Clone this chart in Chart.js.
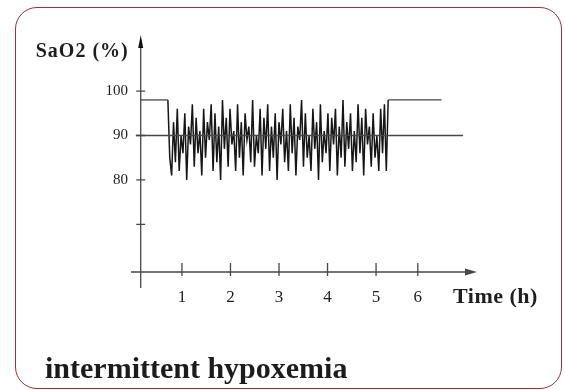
<!DOCTYPE html>
<html>
<head>
<meta charset="utf-8">
<script src="https://cdn.jsdelivr.net/npm/chart.js@4/dist/chart.umd.min.js"></script>
<style>
  html, body { margin: 0; padding: 0; background: #fff; }
  #wrap { position: relative; width: 565px; height: 390px; overflow: hidden; }
  #frame {
    position: absolute; left: 15px; top: 7px; width: 547px; height: 382px;
    box-sizing: border-box; border: 1.5px solid #9e3036; border-radius: 22px;
  }
  #chart { position: absolute; left: 0; top: 0; }
  #caption {
    position: absolute; left: 45px; top: 351px; line-height: 30px;
    font: bold 30px "Liberation Serif", serif; color: #1c1c1c; white-space: nowrap;
  }
</style>
</head>
<body>
<div id="wrap">
  <div id="frame"></div>
  <canvas id="chart" width="565" height="390"></canvas>
  <div id="caption">intermittent hypoxemia</div>
</div>
<script>
// axis titles and ticks
var yTitle = 'SaO2 (%)',
  xTitle = 'Time (h)',
  yTickValues = [70, 80, 90, 100],
  yTickLabels = ['', '80', '90', '100'],
  xTickValues = [1, 2, 3, 4, 5, 5.86],
  xTickLabels = ['1', '2', '3', '4', '5', '6'];

// where the y axis crosses the time axis (h)
var yAxisHour = 0.15;

// resting saturation before and after the episode
var restLevel = 98,
  leadInHours = [0.15, 0.71],
  tailOutHours = [5.25, 6.35];

// 90 % reference line
var referenceLevel = 90,
  referenceHours = [0.05, 6.79];

// oscillating SaO2 during the episode, sampled evenly from signalStart to signalEnd
var signalStart = 0.71,
  signalEnd = 5.25,
  signalValues = [
    98, 85, 81, 93, 84, 96, 82, 90, 86, 95,
    80, 92, 88, 97, 83, 94, 86, 91, 81, 96,
    85, 93, 89, 97, 82, 95, 84, 92, 80, 98,
    87, 94, 83, 96, 88, 91, 82, 97, 85, 93,
    81, 95, 89, 92, 84, 98, 83, 90, 86, 96,
    81, 94, 87, 97, 82, 92, 85, 95, 80, 93,
    88, 96, 84, 91, 82, 97, 86, 94, 81, 92,
    89, 98, 83, 95, 85, 90, 82, 96, 87, 93,
    80, 97, 84, 91, 86, 95, 82, 94, 88, 96,
    81, 92, 85, 98, 83, 93, 87, 95, 82, 91,
    84, 97, 86, 94, 81, 96, 88, 92, 83, 95,
    85, 90, 82, 96, 86, 97, 82, 98
  ];

var axisColor = '#474747',
  textColor = '#1e1e1e',
  serif = '"Liberation Serif", serif';

var signalPoints = signalValues.map(function(v, i) {
  return { x: signalStart + i * (signalEnd - signalStart) / (signalValues.length - 1), y: v };
});

var crossedAxes = {
  id: 'crossedAxes',
  afterDraw: function(chart) {
    var ctx = chart.ctx,
      area = chart.chartArea,
      x = chart.scales.x,
      y = chart.scales.y,
      x0 = x.getPixelForValue(yAxisHour),
      y0 = area.bottom;

    ctx.save();
    ctx.strokeStyle = axisColor;
    ctx.fillStyle = axisColor;
    ctx.lineWidth = 1.3;

    // time axis with arrow
    ctx.beginPath();
    ctx.moveTo(area.left, y0);
    ctx.lineTo(area.right - 8, y0);
    ctx.stroke();
    ctx.beginPath();
    ctx.moveTo(area.right, y0);
    ctx.lineTo(area.right - 12, y0 - 3.5);
    ctx.lineTo(area.right - 12, y0 + 3.5);
    ctx.closePath();
    ctx.fill();

    // SaO2 axis with arrow
    ctx.beginPath();
    ctx.moveTo(x0, y0 + 16);
    ctx.lineTo(x0, area.top + 8);
    ctx.stroke();
    ctx.fillStyle = '#111';
    ctx.beginPath();
    ctx.moveTo(x0, area.top);
    ctx.lineTo(x0 - 2.5, area.top + 13);
    ctx.lineTo(x0 + 2.5, area.top + 13);
    ctx.closePath();
    ctx.fill();

    // tick marks crossing the axes
    ctx.beginPath();
    x.ticks.forEach(function(t) {
      var px = x.getPixelForValue(t.value);
      ctx.moveTo(px, y0 - 9);
      ctx.lineTo(px, y0 + 4);
    });
    y.ticks.forEach(function(t) {
      var py = y.getPixelForValue(t.value);
      ctx.moveTo(x0 - 4.5, py);
      ctx.lineTo(x0 + 4.5, py);
    });
    ctx.stroke();

    // axis titles
    ctx.fillStyle = textColor;
    ctx.textBaseline = 'middle';
    ctx.font = 'bold 20px ' + serif;
    ctx.textAlign = 'right';
    if ('letterSpacing' in ctx) ctx.letterSpacing = '1px';
    ctx.fillText(yTitle, x0 - 12, area.top + 17);
    ctx.font = 'bold 22px ' + serif;
    ctx.textAlign = 'left';
    if ('letterSpacing' in ctx) ctx.letterSpacing = '0.5px';
    ctx.fillText(xTitle, area.right - 24, y0 + 25);
    ctx.restore();
  }
};

new Chart(document.getElementById('chart').getContext('2d'), {
  type: 'line',
  data: {
    datasets: [
      {
        data: referenceHours.map(function(h) { return { x: h, y: referenceLevel }; }),
        borderColor: axisColor,
        borderWidth: 1.3
      },
      {
        data: leadInHours.map(function(h) { return { x: h, y: restLevel }; }),
        borderColor: axisColor,
        borderWidth: 1.3
      },
      {
        data: tailOutHours.map(function(h) { return { x: h, y: restLevel }; }),
        borderColor: axisColor,
        borderWidth: 1.3
      },
      {
        data: signalPoints,
        borderColor: '#161616',
        borderWidth: 1.5
      }
    ]
  },
  options: {
    responsive: false,
    devicePixelRatio: 1,
    animation: false,
    clip: false,
    elements: { point: { radius: 0 }, line: { tension: 0 } },
    layout: { padding: { top: 35, right: 88, bottom: 0, left: 0 } },
    plugins: { legend: { display: false }, tooltip: { enabled: false } },
    scales: {
      x: {
        type: 'linear',
        min: -0.05,
        max: 7.08,
        afterFit: function(scale) { scale.height = 118; },
        afterBuildTicks: function(scale) {
          scale.ticks = xTickValues.map(function(v) { return { value: v }; });
        },
        grid: { display: false, drawTicks: false },
        border: { display: false },
        ticks: {
          padding: 15,
          maxRotation: 0,
          autoSkip: false,
          color: textColor,
          font: { family: serif, size: 17 },
          callback: function(value, index) { return xTickLabels[index]; }
        }
      },
      y: {
        type: 'linear',
        min: 59.3,
        max: 112.6,
        afterFit: function(scale) { scale.width = 131; },
        afterBuildTicks: function(scale) {
          scale.ticks = yTickValues.map(function(v) { return { value: v }; });
        },
        grid: { display: false, drawTicks: false },
        border: { display: false },
        ticks: {
          padding: 3,
          autoSkip: false,
          color: textColor,
          font: { family: serif, size: 15 },
          callback: function(value, index) { return yTickLabels[index]; }
        }
      }
    }
  },
  plugins: [crossedAxes]
});
</script>
</body>
</html>
